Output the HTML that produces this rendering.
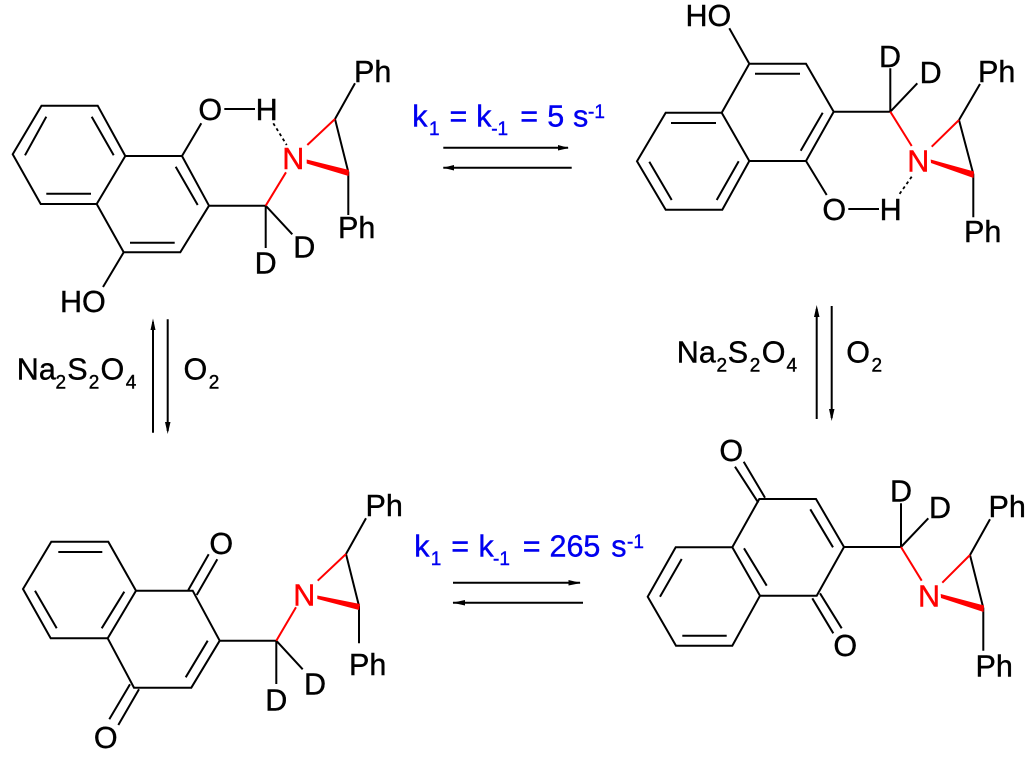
<!DOCTYPE html>
<html><head><meta charset="utf-8"><style>
html,body{margin:0;padding:0;background:#fff}
svg{display:block}
text{font-family:"Liberation Sans",Arial,sans-serif;font-size:30.5px;fill:#000;stroke:#000;stroke-width:.4}
.m{text-anchor:middle}
.r{fill:#f00;stroke:#f00}
.b{fill:#0000f0;stroke:#0000f0}
.s{font-size:19px}
</style></head><body>
<svg width="1029" height="759" viewBox="0 0 1029 759" xmlns="http://www.w3.org/2000/svg">
<rect width="1029" height="759" fill="#fff"/>
<!-- black bonds -->
<path fill="none" stroke="#000" stroke-width="2" d="
M41.5 105.7L97.7 105.7L125.3 156L96.7 204L40.7 204L12.7 154.3Z
M125.3 156L182 156L209 205.7L180.3 252.3L123.7 252.3L96.7 204
M91.7 116.7L113.7 155.3M46.3 116.7L25 155.3M46.3 193.7L91 193.7M175.7 166.7L197.7 205M130 242.7L174.7 242.7
M182 156L201.3 123.3M224.3 109L255 109M123.7 252.3L103 287
M209 205.7L265.7 205.7M265.7 205.7L265.7 248M265.7 205.7L292.3 234.3
M335 119L348.3 172M348.3 172L348.3 215M335 119L355 83.3

M665.7 112.7L721.7 112.7L749.3 63.7L806 63.7L833.7 111.7L806 161L749.3 161L722.3 209.7L665.7 209.7L637 161.3Z
M721.7 112.7L749.3 161
M671 123L716 123M755 73.7L800 73.7M822.7 112.7L800.7 150.7M738.7 161.3L716.7 200M649.3 161.7L671.7 200
M749.3 63.7L729.3 28.3M806 161L826.7 195M848.3 209L879 209
M833.7 111.7L890.3 111.7M890.3 111.7L890.3 68.3M890.3 111.7L917.3 83.3
M959 120L973.3 174M973.3 174L973.3 217.3M959 120L980 84

M51.3 541.7L108.3 541.7L136 590.7L107.7 638.3L50.7 638.3L23 589Z
M136 590.7L192.7 590.7L219.7 640.7L191.3 687.7L134 687.7L107.7 638.3
M58.3 552L102.3 552M124.3 591.7L101.7 628.3M35 590.7L56.7 628.3M207.7 640.7L185.7 677.3
M188.3 590L208.7 554.3M196.7 595L217.3 559.3M130 684.3L109.3 719.3M139 689.3L118.3 725
M219.7 640.7L276.3 640.7M276.3 640.7L276.3 684M276.3 640.7L302.7 669.3
M346 554L359 606M359 606L359 643.3M346 554L366 518.3

M675.7 547.3L732.3 547.3L759.3 499L816 499L844 547L816.7 595.7L760 595.7L732.3 645.7L676 645.7L647.7 596.7Z
M732.3 547.3L760 595.7
M681.7 559L660 596.7M744 548.3L766.7 585.7M682.3 635.7L726.7 635.7M810.3 509.3L833 547.3
M758.3 502.7L735 466.7M765 497.7L743.7 461.7M812.3 598.3L833.3 633.3M820 593.3L841.7 628.3
M844 547L901 547M901 547L901 503.3M901 547L928.3 518.3
M970 555L983.3 608M983.3 608L983.3 650.7M970 555L990 519.3"/>
<!-- H-bond dashes -->
<path fill="none" stroke="#000" stroke-width="1.8" stroke-dasharray="3 3" d="M273.3 123.3L286.7 145M911.7 176.7L899.3 194.3"/>
<!-- red bonds -->
<path fill="none" stroke="#f00" stroke-width="2" d="M265.7 205.7L286 172.3M335 119L307.3 145
M890.3 111.7L911.7 146M959 120L931.7 146.7
M276.3 640.7L296 607.3M346 554L317.7 580.7
M901 547L921.7 580.7M970 555L942.3 582.7"/>
<path fill="#f00" d="M306.7 159.5L349 170L348.5 176L306.7 163.5ZM930.7 159.5L974 171.5L973.5 178L931 163ZM317.3 595.5L360 604L359 610L317.3 599ZM940.7 594L984 605.5L983.5 612L941 598Z"/>
<!-- arrows -->
<path fill="none" stroke="#000" stroke-width="2" d="M443.3 147.7L568 147.7M443.3 167.7L571.7 167.7
M453 582.7L580 582.7M453 602.7L583 602.7
M153 322L153 432.7M167.7 319.3L167.7 431
M816.7 309L816.7 419M831.7 306L831.7 418"/>
<path fill="#000" d="M558 145L569 148L558 150.5ZM443 167.7L454 165L454 170.5ZM568.5 580L581 583L568.5 585.5ZM452.5 602.7L465 600L465 605.5ZM153 318.5L150.5 330L155.5 330ZM167.7 434L165 422L170.5 422ZM816.7 305L814 317L819.5 317ZM831.7 421L829 409L834.5 409Z"/>
<!-- molecule 1 labels -->
<text class="m" x="210.3" y="120">O</text><text class="m" x="266.7" y="120">H</text>
<text class="m r" x="293.3" y="169">N</text>
<text x="354" y="82">Ph</text><text x="338" y="238">Ph</text>
<text class="m" x="265.7" y="273.5">D</text><text class="m" x="304.3" y="257.5">D</text>
<text x="60" y="312">HO</text>
<!-- molecule 2 labels -->
<text x="685.5" y="26">HO</text>
<text class="m" x="834.3" y="220">O</text><text class="m" x="890.7" y="220">H</text>
<text class="m r" x="918.3" y="171.5">N</text>
<text x="978" y="82">Ph</text><text x="964" y="242">Ph</text>
<text class="m" x="890" y="67">D</text><text class="m" x="930.7" y="83">D</text>
<!-- molecule 3 labels -->
<text class="m" x="221.3" y="554">O</text><text class="m" x="105.7" y="748">O</text>
<text class="m r" x="304.3" y="605.5">N</text>
<text x="365.5" y="516">Ph</text><text x="349" y="675">Ph</text>
<text class="m" x="276.3" y="710.5">D</text><text class="m" x="315" y="694.5">D</text>
<!-- molecule 4 labels -->
<text class="m" x="731.3" y="461">O</text><text class="m" x="845.3" y="656">O</text>
<text class="m r" x="929" y="606.5">N</text>
<text x="988.5" y="517">Ph</text><text x="975.5" y="676.5">Ph</text>
<text class="m" x="901" y="501.5">D</text><text class="m" x="940" y="518">D</text>
<!-- rate labels -->
<text class="b" x="412.2" y="126.7">k</text><text class="b s" x="429" y="135">1</text>
<text class="b" x="449.5" y="126.7">=</text><text class="b" x="476.2" y="126.7">k</text>
<text class="b s" x="491.2" y="135">-1</text><text class="b" x="520.2" y="126.7">=</text>
<text class="b" x="547.2" y="126.7">5</text><text class="b" x="573" y="126.7">s</text>
<text class="b s" x="588" y="118">-1</text>

<text class="b" x="414.2" y="556.7">k</text><text class="b s" x="430.7" y="565">1</text>
<text class="b" x="451.2" y="556.7">=</text><text class="b" x="478.5" y="556.7">k</text>
<text class="b s" x="493" y="565">-1</text><text class="b" x="522.8" y="556.7">=</text>
<text class="b" x="549.5" y="556.7">265</text><text class="b" x="611.2" y="556.7">s</text>
<text class="b s" x="627" y="548">-1</text>
<!-- reagents -->
<text x="16.8" y="379.3">Na</text><text class="s" x="55.5" y="388.7">2</text><text x="67.2" y="379.3">S</text><text class="s" x="88.8" y="388.7">2</text><text x="100.5" y="379.3">O</text><text class="s" x="125.8" y="388.7">4</text>
<text x="183.5" y="379.3">O</text><text class="s" x="208.8" y="388.7">2</text>

<text x="676.8" y="362.3">Na</text><text class="s" x="716.5" y="371.7">2</text><text x="727.8" y="362.3">S</text><text class="s" x="749.8" y="371.7">2</text><text x="761.8" y="362.3">O</text><text class="s" x="786.5" y="371.7">4</text>
<text x="846.2" y="362.3">O</text><text class="s" x="871.5" y="371.7">2</text>
</svg>
</body></html>
